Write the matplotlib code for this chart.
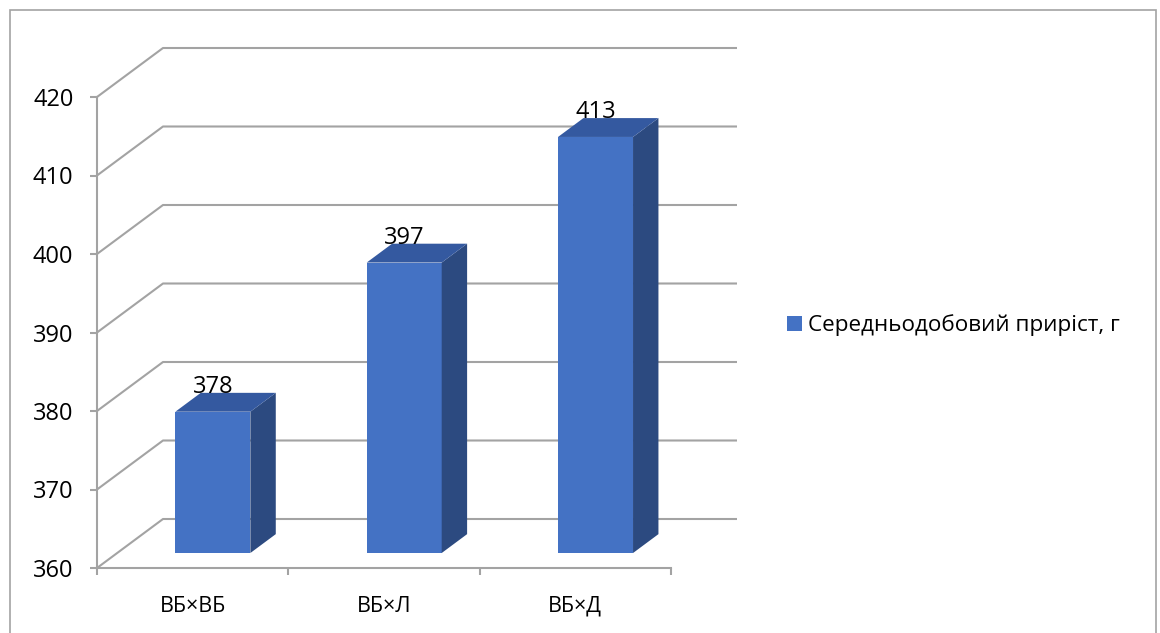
import matplotlib
matplotlib.use("Agg")
import matplotlib.pyplot as plt
from matplotlib.patches import Rectangle, Patch

# ---- data ----
categories = ["ВБ×ВБ", "ВБ×Л", "ВБ×Д"]
values = [378, 397, 413]
series_name = "Середньодобовий приріст, г"
y_ticks = [360, 370, 380, 390, 400, 410, 420]

# ---- style ----
FONT = ["Open Sans", "DejaVu Sans"]
plt.rcParams["font.family"] = FONT
GRID = "#A3A3A3"
FRONT = "#4472C4"
TOP = "#3459A0"
SIDE = "#2C4A80"

W, H = 1160, 633
fig = plt.figure(figsize=(W / 100, H / 100), dpi=100)

# axes: front plane from px x 97..671, y 568..97; back wall to x 738, y 47
x_px_per_cat = (671 - 97) / 3
y_px_per_val = (568 - 97) / 60
left, right, top_px, bottom_px = 97, 738, 47, 568
ax = fig.add_axes([left / W, (H - bottom_px) / H, (right - left) / W, (bottom_px - top_px) / H])
ax.set_xlim(-0.5, -0.5 + (right - left) / x_px_per_cat)
ax.set_ylim(360, 360 + (bottom_px - top_px) / y_px_per_val)
ax.patch.set_alpha(0)

DX = 66 / x_px_per_cat   # full depth in x data units
DY = 49 / y_px_per_val   # full depth in y data units
F = 0.306                # depth of bar front face
BD = 0.385               # bar depth fraction
BW = 0.392               # bar width (category units)

n = len(categories)
x0, x1 = -0.5, n - 0.5

# back wall gridlines + side wall lines
for v in y_ticks:
    ax.plot([x0, x0 + DX, x1 + DX], [v, v + DY, v + DY], color=GRID, lw=1.5,
            solid_capstyle="butt", zorder=1, clip_on=False)

# bars
for i, v in enumerate(values):
    xl = i - BW / 2 + F * DX
    xr = i + BW / 2 + F * DX
    yb = y_ticks[0] + F * DY
    yt = v + F * DY
    ox, oy = BD * DX, BD * DY
    ax.fill([xl, xr, xr, xl], [yb, yb, yt, yt], color=FRONT, lw=0, zorder=3)
    ax.fill([xr, xr + ox, xr + ox, xr], [yb, yb + oy, yt + oy, yt], color=SIDE, lw=0, zorder=3)
    ax.fill([xl, xr, xr + ox, xl + ox], [yt, yt, yt + oy, yt + oy], color=TOP, lw=0, zorder=3)
    ax.text(i + F * DX, v + (F + BD) * DY, f"{v}", ha="center", va="baseline",
            fontsize=17, color="black", zorder=4)

# axes spines
for s in ["top", "right"]:
    ax.spines[s].set_visible(False)
ax.spines["left"].set_bounds(y_ticks[0], y_ticks[-1])
ax.spines["left"].set_position(("data", x0))
ax.spines["bottom"].set_bounds(x0, x1)
ax.spines["bottom"].set_position(("data", y_ticks[0]))
for s in ["left", "bottom"]:
    ax.spines[s].set_color(GRID)
    ax.spines[s].set_linewidth(1.5)
    ax.spines[s].set_zorder(2)

ax.set_yticks(y_ticks)
ax.set_yticklabels([str(t) for t in y_ticks])
ax.tick_params(axis="y", direction="out", length=5, width=1.5, color=GRID,
               pad=12, labelsize=17)
ax.set_xticks(range(n))
ax.set_xticklabels(categories)
ax.set_xticks([k - 0.5 for k in range(n + 1)], minor=True)
ax.tick_params(axis="x", which="major", length=0, pad=20, labelsize=15.5)
ax.tick_params(axis="x", which="minor", direction="out", length=5, width=1.5, color=GRID)

# legend
LFS = 16.2
fs_px = LFS * 100 / 72
fig.legend(handles=[Patch(facecolor=FRONT, edgecolor="none")], labels=[series_name],
           loc="center left", bbox_to_anchor=(787 / W, 1 - 325.5 / H),
           frameon=False, fontsize=LFS, handlelength=15 / fs_px, handleheight=15 / fs_px,
           handletextpad=6 / fs_px, borderpad=0, borderaxespad=0)

# chart border
fig.add_artist(Rectangle((10 / W, -0.05), (1156 - 10) / W, (H - 9.5) / H + 0.05,
                         transform=fig.transFigure, fill=False, ec=GRID, lw=1.2))

fig.savefig("out.png", dpi=100)
